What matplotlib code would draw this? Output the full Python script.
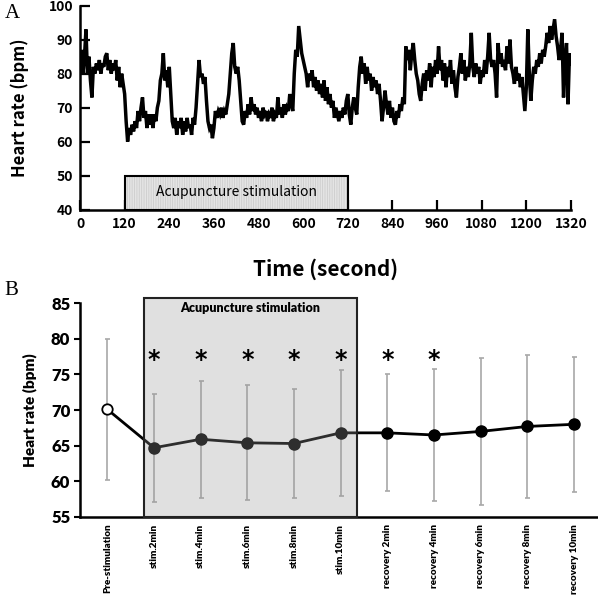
import matplotlib
matplotlib.use('Agg')
import matplotlib.pyplot as plt
import numpy as np
from matplotlib.patches import Rectangle

plt.rcParams['hatch.linewidth'] = 0.6

hr_trace = [
    84, 87, 80, 85, 93, 80, 85, 78, 73, 82,
    80, 83, 81, 84, 80, 83, 82, 85, 86, 81,
    84, 80, 83, 81, 84, 78, 82, 76, 80, 77,
    74, 66, 60, 64, 62, 65, 63, 66, 64, 69,
    66, 70, 73, 67, 69, 64, 68, 65, 68, 64,
    68, 66, 70, 72, 78, 80, 86, 78, 81, 76,
    82, 74, 66, 64, 67, 62, 66, 64, 67, 62,
    66, 63, 67, 64, 65, 62, 67, 65, 70, 77,
    84, 79, 80, 77, 79, 72, 66, 64, 65, 61,
    64, 69, 67, 69, 68, 70, 67, 69, 68, 71,
    74, 80, 86, 89, 82, 80, 82, 78, 72, 66,
    65, 69, 67, 71, 68, 73, 69, 71, 68, 70,
    67, 69, 66, 70, 68, 69, 66, 68, 67, 70,
    66, 68, 67, 73, 68, 70, 67, 71, 68, 70,
    69, 74, 71, 69, 80, 87, 85, 94, 90, 86,
    84, 82, 80, 76, 80, 78, 81, 76, 79, 75,
    78, 74, 77, 73, 78, 72, 76, 71, 74, 70,
    72, 67, 70, 68, 66, 69, 67, 70, 68, 72,
    74, 68, 65, 70, 73, 70, 68, 76, 82, 85,
    80, 83, 77, 82, 78, 80, 75, 79, 76, 78,
    74, 77, 72, 66, 70, 75, 71, 68, 72, 67,
    70, 66, 65, 69, 67, 71, 69, 73, 71, 88,
    84, 87, 81, 86, 89, 84, 80, 78, 74, 72,
    77, 80, 75, 81, 78, 83, 76, 82, 79, 84,
    80, 88, 81, 84, 78, 83, 76, 82, 79, 84,
    77, 81, 76, 73, 79, 82, 86, 80, 84, 78,
    82, 79, 83, 92, 82, 79, 83, 80, 82, 77,
    81, 79, 84, 80, 85, 92, 84, 82, 84, 80,
    73, 89, 83, 86, 82, 84, 81, 88, 83, 90,
    82, 80, 77, 82, 78, 80, 76, 79, 74, 69,
    76, 93, 80, 72, 78, 82, 80, 84, 82, 86,
    83, 87, 85, 88, 92, 89, 94, 90, 93, 96,
    91, 88, 84, 87, 92, 73, 84, 89, 71, 86,
    83,
]
time_s = np.arange(len(hr_trace)) * 4
stim_start, stim_end = 120, 720
xticks_a = list(range(0, 1321, 120))

# ---- panel B: mean +/- SD
categories = ['Pre-stimulation', 'stim.2min', 'stim.4min', 'stim.6min',
              'stim.8min', 'stim.10min', 'recovery 2min', 'recovery 4min',
              'recovery 6min', 'recovery 8min', 'recovery 10min']
means = [70.1, 64.7, 65.9, 65.4, 65.3, 66.8, 66.8, 66.5, 67.0, 67.7, 68.0]
sds = [9.9, 7.6, 8.2, 8.1, 7.6, 8.9, 8.2, 9.3, 10.3, 10.1, 9.5]
significant = [1, 2, 3, 4, 5, 6, 7]

jp = 'Noto Sans CJK JP'
lat = 'Lato'

fig = plt.figure(figsize=(5.98, 5.99), dpi=100)

# ================= A =================
axA = fig.add_axes([0.1338, 0.650, 0.821, 0.3406])
axA.plot(time_s, hr_trace, color='black', lw=2.5, solid_joinstyle='miter')
# hatched fill, then the black frame on top
axA.add_patch(Rectangle((stim_start, 40), stim_end - stim_start, 10,
                        facecolor='#e4e4e4', edgecolor='#cdcdcd', lw=0,
                        hatch='|||||||', zorder=3))
axA.add_patch(Rectangle((stim_start, 40), stim_end - stim_start, 10,
                        facecolor='none', edgecolor='black', lw=1.5,
                        zorder=3.5))
axA.text((stim_start + stim_end) / 2, 45.3, 'Acupuncture stimulation',
         ha='center', va='center', fontsize=10, family=jp, zorder=4)
axA.set_xlim(0, 1320)
axA.set_ylim(40, 100)
axA.set_xticks(xticks_a)
axA.set_yticks(range(40, 101, 10))
for s in ['top', 'right']:
    axA.spines[s].set_visible(False)
for s in ['left', 'bottom']:
    axA.spines[s].set_linewidth(1.8)
axA.tick_params(direction='in', length=7, width=1.6, pad=5)
for lab in axA.get_xticklabels() + axA.get_yticklabels():
    lab.set_family(jp)
    lab.set_fontweight('bold')
    lab.set_fontsize(10)
axA.set_ylabel('Heart rate (bpm)', family=jp, fontweight='bold', fontsize=12,
               labelpad=14)
axA.set_xlabel('Time (second)', family=jp, fontweight='bold', fontsize=15,
               labelpad=20)
fig.text(0.008, 0.978, 'A', family='Liberation Serif', fontsize=15,
         va='center', ha='left')

# ================= B =================
x = np.arange(len(categories))
axB = fig.add_axes([0.1338, 0.1372, 0.866, 0.3564])
axB.errorbar(x, means, yerr=sds, fmt='none', ecolor='#a8a8a8', elinewidth=1.2,
             capsize=1.8, capthick=1.2, zorder=2)
axB.plot(x, means, color='black', lw=2.0, zorder=3)
axB.plot(x[1:], means[1:], 'o', color='black', ms=8, zorder=4)
axB.plot(x[:1], means[:1], 'o', mfc='white', mec='black', mew=1.3, ms=7.5,
         zorder=4)
axB.add_patch(Rectangle((0.78, 55), 5.35 - 0.78, 30.8, facecolor=(0.6, 0.6, 0.6),
                        alpha=0.3, edgecolor='none', zorder=5, clip_on=False))
axB.add_patch(Rectangle((0.78, 55), 5.35 - 0.78, 30.8, facecolor='none',
                        edgecolor='#222222', lw=1.5, zorder=6, clip_on=False))
axB.text(3.06, 84.4, 'Acupuncture stimulation', ha='center', va='center',
         fontsize=9, family=lat, fontweight='heavy', zorder=7)
for i in significant:
    axB.text(x[i], 76.0, '*', ha='center', va='baseline', fontsize=17,
             fontweight='bold', family='DejaVu Sans', zorder=7)
axB.set_xlim(-0.585, 10.51)
axB.set_ylim(55, 85)
axB.set_yticks(range(55, 86, 5))
axB.set_xticks(x)
axB.set_xticklabels(categories, rotation=90, family=lat, fontweight='heavy',
                    fontsize=7.1)
for s in ['top', 'right']:
    axB.spines[s].set_visible(False)
for s in ['left', 'bottom']:
    axB.spines[s].set_linewidth(1.8)
axB.tick_params(axis='x', length=0, pad=5)
axB.tick_params(axis='y', direction='out', length=4, width=1.5, pad=3)
for lab in axB.get_yticklabels():
    lab.set_family(lat)
    lab.set_fontweight('heavy')
    lab.set_fontsize(12)
axB.set_ylabel('Heart rate (bpm)', family=lat, fontweight='heavy', fontsize=11,
               labelpad=10)
fig.text(0.008, 0.515, 'B', family='Liberation Serif', fontsize=15,
         va='center', ha='left')

fig.savefig('out.png', dpi=100)
